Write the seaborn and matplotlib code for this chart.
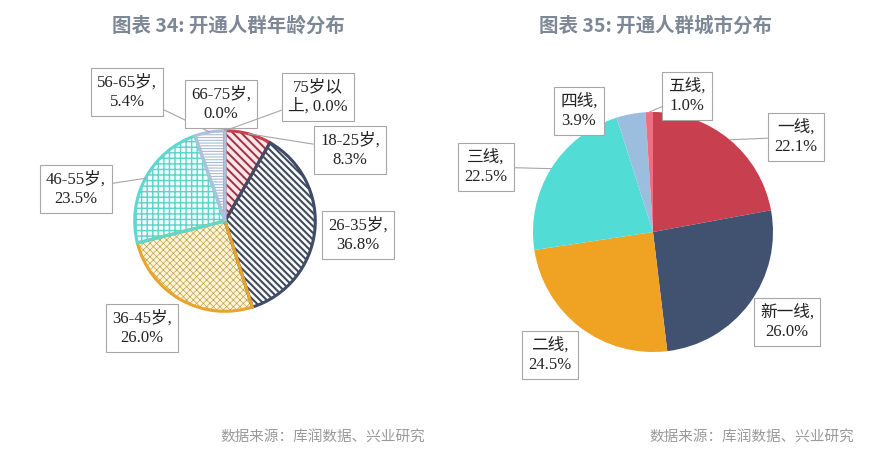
import numpy as np
import matplotlib
matplotlib.use("Agg")
import matplotlib.pyplot as plt
import seaborn as sns

# ---------------- data ----------------
age_labels = ["18-25岁", "26-35岁", "36-45岁", "46-55岁", "56-65岁", "66-75岁", "75岁以上"]
age_values = [8.3, 36.8, 26.0, 23.5, 5.4, 0.0, 0.0]
age_label_text = ["18-25岁,\n8.3%", "26-35岁,\n36.8%", "36-45岁,\n26.0%", "46-55岁,\n23.5%",
                  "56-65岁,\n5.4%", "66-75岁,\n0.0%", "75岁以\n上, 0.0%"]

city_labels = ["一线", "新一线", "二线", "三线", "四线", "五线"]
city_values = [22.1, 26.0, 24.5, 22.5, 3.9, 1.0]
city_label_text = ["一线,\n22.1%", "新一线,\n26.0%", "二线,\n24.5%", "三线,\n22.5%",
                   "四线,\n3.9%", "五线,\n1.0%"]

title_left = "图表 34: 开通人群年龄分布"
title_right = "图表 35: 开通人群城市分布"
source_text = "数据来源：库润数据、兴业研究"

# ---------------- styles ----------------
age_face = ["#FBE4E8", "#FFFFFF", "#FFF6DA", "#EEFDFB", "#FFFFFF", "#FFFFFF", "#FFFFFF"]
age_hatchc = ["#9A3443", "#3E4A5E", "#C2A24A", "#5ED3CA", "#A9BAD6", "#A9BAD6", "#A9BAD6"]
age_edge = ["#C8404F", "#3F4C66", "#E8A42C", "#5ED8CE", "#AFC0DA", "#AFC0DA", "#AFC0DA"]
age_hatch = ["\\" * 4, "\\" * 5, "x" * 5, "+++", "-" * 6, "-" * 6, "-" * 6]
age_hatch_lw = [1.4, 1.5, 0.5, 1.0, 0.8, 0.8, 0.8]

city_colors = ["#C8404F", "#405270", "#F0A223", "#52DCD6", "#9CBEDE", "#F06E82"]

# label centers in figure pixels (layout), and whether a leader line is drawn
age_label_pos = [(350, 150), (358, 235), (142, 328), (76, 189), (127, 92), (221, 104), (318, 97)]
age_leader = [True, False, False, True, True, True, True]
city_label_pos = [(796, 137), (787, 322), (550, 355), (486, 167), (579, 111), (687, 96)]
city_leader = [True, False, False, True, False, True]

W, H = 890, 459
sns.set_theme(style="white")
plt.rcParams["font.family"] = ["Liberation Serif", "Noto Sans CJK SC", "DejaVu Sans"]

fig = plt.figure(figsize=(W / 100, H / 100), dpi=100)
fig.patch.set_facecolor("white")


def make_ax(cx, cy, r):
    ax = fig.add_axes([(cx - r) / W, 1 - (cy + r) / H, 2 * r / W, 2 * r / H])
    ax.set_xlim(-1, 1)
    ax.set_ylim(-1, 1)
    ax.set_aspect("equal")
    ax.axis("off")
    return ax


def fig_frac(p):
    return (p[0] / W, 1 - p[1] / H)


label_font = dict(fontsize=12, color="#222222",
                  family=["Liberation Serif", "Noto Sans CJK SC"])
box = dict(boxstyle="square,pad=0.38", fc="white", ec="#A6A6A6", lw=0.8)


def add_labels(ax, wedges, texts, positions, leaders):
    for w, t, pos, lead in zip(wedges, texts, positions, leaders):
        mid = np.deg2rad((w.theta1 + w.theta2) / 2)
        xy = (np.cos(mid), np.sin(mid))
        ap = dict(arrowstyle="-", color="#A6A6A6", lw=0.8, shrinkA=0, shrinkB=0) if lead else None
        ax.annotate(t, xy=xy, xycoords="data", xytext=fig_frac(pos),
                    textcoords="figure fraction", ha="center", va="center",
                    multialignment="center", linespacing=1.3,
                    bbox=box, arrowprops=ap, annotation_clip=False, **label_font)


# ---------------- left pie (hatched) ----------------
axL = make_ax(225, 221, 93)
wedgesL, _ = axL.pie(age_values, startangle=90, counterclock=False, radius=1,
                     colors=age_face, wedgeprops=dict(linewidth=0.3))
for w, hc, hatch, hlw in zip(wedgesL, age_hatchc, age_hatch, age_hatch_lw):
    w.set_edgecolor(hc)
    w.set_hatch(hatch)
    if hasattr(w, "set_hatch_linewidth"):
        w.set_hatch_linewidth(hlw)
# outlines
outL, _ = axL.pie(age_values, startangle=90, counterclock=False, radius=1,
                  wedgeprops=dict(fill=False, linewidth=2.2))
for w, ec, v in zip(outL, age_edge, age_values):
    w.set_edgecolor(ec)
    if v <= 0:
        w.set_linewidth(0)
axL.set_xlim(-1.03, 1.03)
axL.set_ylim(-1.03, 1.03)
add_labels(axL, wedgesL, age_label_text, age_label_pos, age_leader)

# ---------------- right pie (solid) ----------------
axR = make_ax(653, 232, 120)
wedgesR, _ = axR.pie(city_values, startangle=90, counterclock=False, radius=1,
                     colors=city_colors, wedgeprops=dict(linewidth=0))
axR.set_xlim(-1.0, 1.0)
axR.set_ylim(-1.0, 1.0)
add_labels(axR, wedgesR, city_label_text, city_label_pos, city_leader)

# ---------------- titles & sources ----------------
title_font = dict(fontsize=14, color="#7D8796", fontweight="bold",
                  family=["Noto Sans CJK SC", "DejaVu Sans"], ha="center", va="center")
fig.text(228 / W, 1 - 26 / H, title_left, **title_font)
fig.text(656 / W, 1 - 26 / H, title_right, **title_font)

src_font = dict(fontsize=10.5, color="#9A9A9A",
                family=["Noto Sans CJK SC", "DejaVu Sans"], ha="left", va="center")
fig.text(220 / W, 1 - 437 / H, source_text, **src_font)
fig.text(649 / W, 1 - 437 / H, source_text, **src_font)

fig.savefig("out.png", dpi=100, facecolor="white")
